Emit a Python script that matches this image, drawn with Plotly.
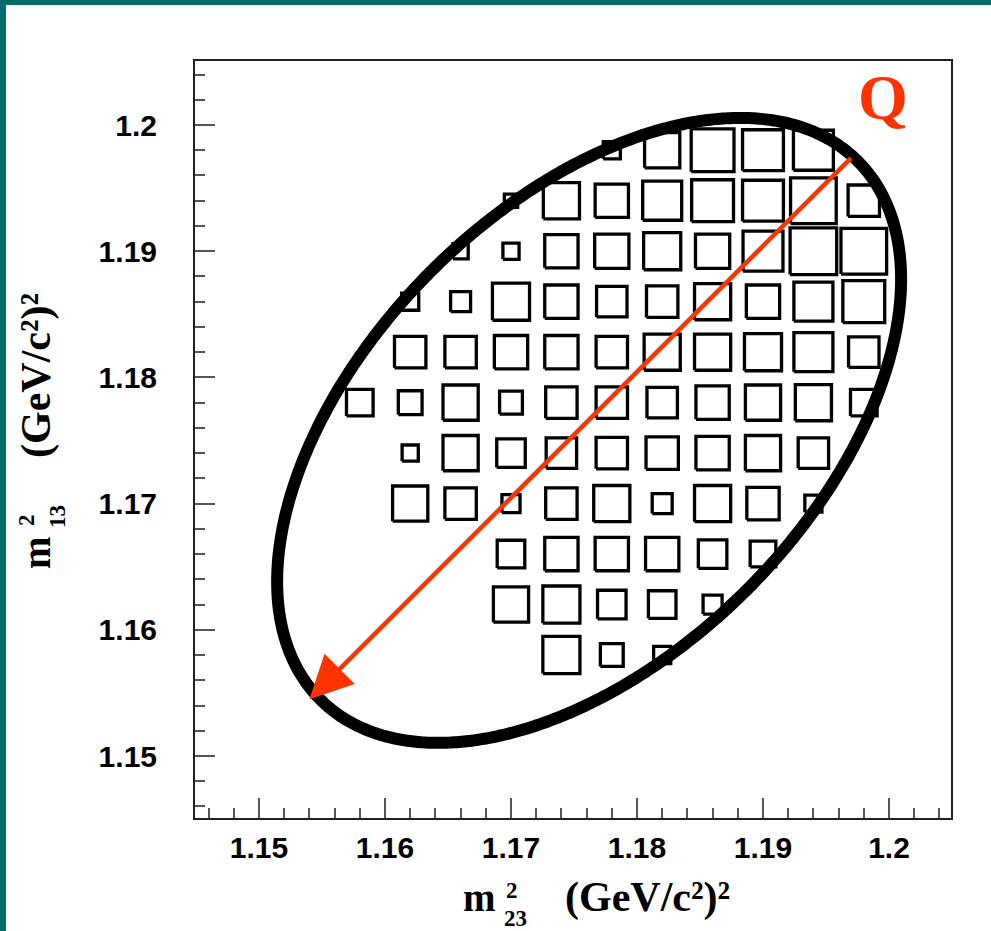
import numpy as np
import plotly.graph_objects as go

# ---------------- data ----------------
m23_bins = [1.158, 1.162, 1.166, 1.170, 1.174, 1.178, 1.182, 1.186, 1.190, 1.194, 1.198]
m13_bins = [1.198, 1.194, 1.190, 1.186, 1.182, 1.178, 1.174, 1.170, 1.166, 1.162, 1.158]
bin_width = 0.004
counts = [
    [0, 0, 0, 0, 0, 18, 37, 45, 43, 42, 0],
    [0, 0, 0, 14, 38, 35, 41, 44, 43, 48, 33],
    [0, 0, 16, 17, 35, 36, 39, 36, 42, 49, 48],
    [0, 18, 21, 39, 35, 32, 33, 38, 35, 41, 44],
    [0, 33, 33, 35, 35, 33, 38, 38, 39, 41, 32],
    [28, 25, 37, 24, 33, 33, 32, 35, 37, 38, 28],
    [0, 17, 37, 30, 32, 33, 34, 35, 37, 32, 0],
    [0, 37, 33, 19, 33, 38, 21, 38, 34, 18, 0],
    [0, 0, 0, 29, 35, 35, 35, 30, 27, 0, 0],
    [0, 0, 0, 37, 39, 30, 29, 20, 0, 0, 0],
    [0, 0, 0, 0, 39, 24, 18, 0, 0, 0, 0],
]
zmax = 53.0

# Dalitz boundary (ellipse) parameters
ell_cx, ell_cy = 1.1762, 1.1758
ell_r = 0.02476
ell_cos = 0.484

# arrow (Q direction): tail and head
arrow_tail = (1.1971, 1.1975)
arrow_head = (1.1540, 1.1545)
q_pos = (1.1995, 1.2022)

x_tick_vals = [1.15, 1.16, 1.17, 1.18, 1.19, 1.20]
x_tick_text = ["1.15", "1.16", "1.17", "1.18", "1.19", "1.2"]
y_tick_vals = [1.15, 1.16, 1.17, 1.18, 1.19, 1.20]
y_tick_text = ["1.15", "1.16", "1.17", "1.18", "1.19", "1.2"]

x_range = [1.144921, 1.204921]
y_range = [1.145087, 1.205071]

# ---------------- figure ----------------
W, H = 991, 931
ML, MR, MT, MB = 195, 40, 61, 113
PW, PH = W - ML - MR, H - MT - MB


def px_x(p):
    return (p - ML) / PW


def px_y(p):
    return (H - MB - p) / PH


# boxes
bx, by = [], []
for j, yc in enumerate(m13_bins):
    for i, xc in enumerate(m23_bins):
        c = counts[j][i]
        if c <= 0:
            continue
        h = 0.5 * bin_width * c / zmax
        bx += [xc - h, xc + h, xc + h, xc - h, xc - h, None]
        by += [yc - h, yc - h, yc + h, yc + h, yc - h, None]

fig = go.Figure()
fig.add_trace(go.Scatter(x=bx, y=by, mode="lines",
                         line=dict(color="black", width=3.3),
                         hoverinfo="skip", showlegend=False))

t = np.linspace(0, 2 * np.pi, 720)
delta = np.arccos(ell_cos)
ex = ell_cx + ell_r * np.cos(t)
ey = ell_cy + ell_r * np.cos(t - delta)
fig.add_trace(go.Scatter(x=ex, y=ey, mode="lines",
                         line=dict(color="black", width=12, simplify=False),
                         hoverinfo="skip", showlegend=False))

red = "#ff3300"
fig.add_annotation(x=arrow_head[0], y=arrow_head[1], ax=arrow_tail[0], ay=arrow_tail[1],
                   xref="x", yref="y", axref="x", ayref="y", text="",
                   showarrow=True, arrowhead=2, arrowsize=1.9, arrowwidth=4.5,
                   arrowcolor=red, standoff=0)
fig.add_annotation(x=q_pos[0], y=q_pos[1], xref="x", yref="y", text="Q",
                   showarrow=False,
                   font=dict(family="Liberation Serif", size=64, color=red, weight="bold"))

serif = dict(family="Liberation Serif", color="black", weight="bold")

# x-axis title pieces
fig.add_annotation(x=px_x(479), y=px_y(898), xref="paper", yref="paper", text="m",
                   showarrow=False, font=dict(size=39, **serif), xanchor="center", yanchor="middle")
fig.add_annotation(x=px_x(512), y=px_y(890), xref="paper", yref="paper", text="2",
                   showarrow=False, font=dict(size=23, **serif), xanchor="center", yanchor="middle")
fig.add_annotation(x=px_x(515), y=px_y(918), xref="paper", yref="paper", text="23",
                   showarrow=False, font=dict(size=23, **serif), xanchor="center", yanchor="middle")
fig.add_annotation(x=px_x(647), y=px_y(898), xref="paper", yref="paper", text="(GeV/c²)²",
                   showarrow=False, font=dict(size=42, **serif), xanchor="center", yanchor="middle")

# y-axis title pieces (rotated)
fig.add_annotation(x=px_x(36), y=px_y(553), xref="paper", yref="paper", text="m",
                   textangle=-90, showarrow=False, font=dict(size=39, **serif),
                   xanchor="center", yanchor="middle")
fig.add_annotation(x=px_x(26), y=px_y(520), xref="paper", yref="paper", text="2",
                   textangle=-90, showarrow=False, font=dict(size=23, **serif),
                   xanchor="center", yanchor="middle")
fig.add_annotation(x=px_x(57), y=px_y(517), xref="paper", yref="paper", text="13",
                   textangle=-90, showarrow=False, font=dict(size=23, **serif),
                   xanchor="center", yanchor="middle")
fig.add_annotation(x=px_x(36), y=px_y(376), xref="paper", yref="paper", text="(GeV/c²)²",
                   textangle=-90, showarrow=False, font=dict(size=42, **serif),
                   xanchor="center", yanchor="middle")

# teal border of the slide
teal = "#006b6b"
fig.add_shape(type="rect", xref="paper", yref="paper",
              x0=px_x(0), x1=px_x(W), y0=px_y(5), y1=px_y(0),
              fillcolor=teal, line=dict(width=0), layer="above")
fig.add_shape(type="rect", xref="paper", yref="paper",
              x0=px_x(0), x1=px_x(6), y0=px_y(H), y1=px_y(0),
              fillcolor=teal, line=dict(width=0), layer="above")

minor_vals = [round(v, 3) for v in np.arange(1.146, 1.2049, 0.002)]
tickfont = dict(family="Liberation Sans", size=30, color="black", weight="bold")
axis_common = dict(showgrid=False, zeroline=False, showline=True, linecolor="#222",
                   linewidth=2, mirror=True, ticks="inside", ticklen=20, tickwidth=1.5,
                   tickcolor="#555", tickfont=tickfont, tickmode="array")

fig.update_xaxes(range=x_range, tickvals=x_tick_vals, ticktext=x_tick_text,
                 ticklabelstandoff=2,
                 minor=dict(tickmode="array", tickvals=minor_vals, ticks="inside",
                            ticklen=10, tickwidth=1.5, tickcolor="#555", showgrid=False),
                 **axis_common)
fig.update_yaxes(range=y_range, tickvals=y_tick_vals, ticktext=y_tick_text,
                 ticklabelstandoff=30,
                 minor=dict(tickmode="array", tickvals=minor_vals, ticks="inside",
                            ticklen=10, tickwidth=1.5, tickcolor="#555", showgrid=False),
                 **axis_common)

fig.update_layout(width=W, height=H, margin=dict(l=ML, r=MR, t=MT, b=MB),
                  plot_bgcolor="white", paper_bgcolor="white", showlegend=False)

fig.write_html("out.html")
